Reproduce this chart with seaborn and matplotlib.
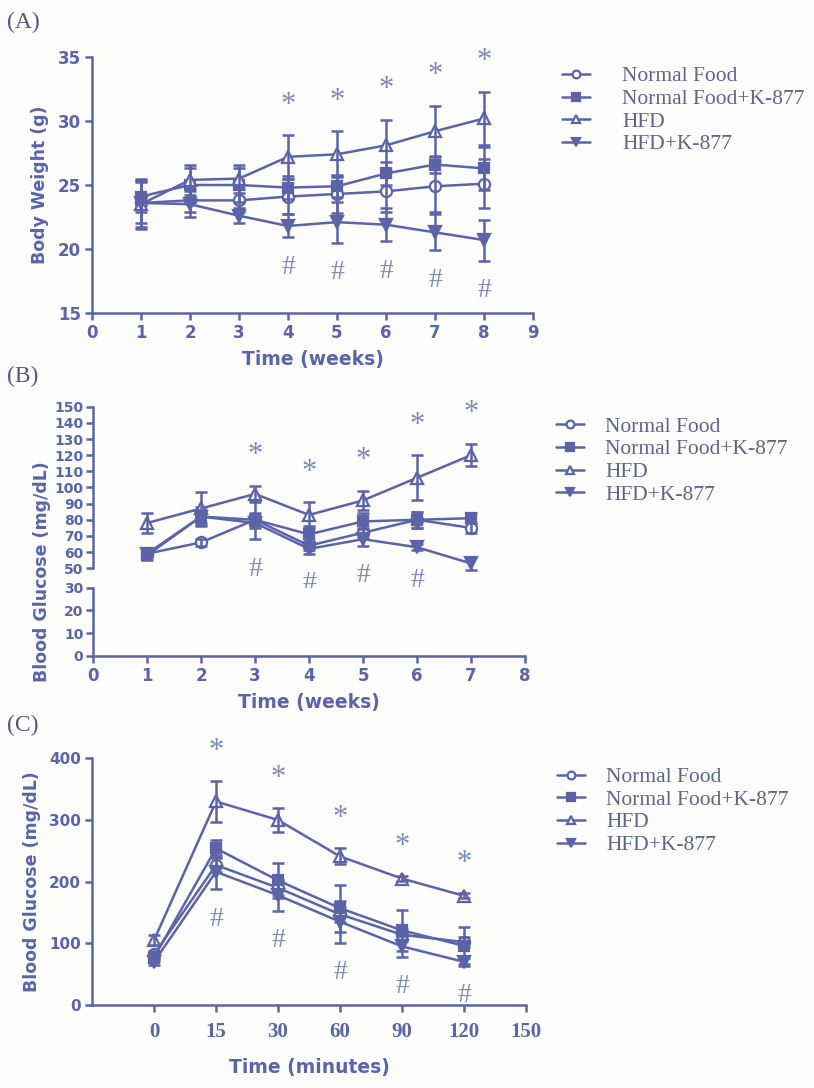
import numpy as np
import pandas as pd
import seaborn as sns
import matplotlib.pyplot as plt

groups = ["Normal Food", "Normal Food+K-877", "HFD", "HFD+K-877"]

# (A) body weight, weeks 1-8
weeks_a = [1, 2, 3, 4, 5, 6, 7, 8]
bw_nf = [23.6, 23.8, 23.8, 24.1, 24.3, 24.5, 24.9, 25.1]
bw_nf_err = [1.6, 0.9, 0.9, 1.4, 1.5, 1.6, 2.0, 1.9]
bw_nfk = [24.1, 25.0, 25.0, 24.8, 24.9, 25.9, 26.6, 26.3]
bw_nfk_err = [1.2, 1.3, 1.3, 0.9, 0.8, 0.9, 0.7, 1.7]
bw_hfd = [23.5, 25.4, 25.5, 27.2, 27.4, 28.1, 29.2, 30.2]
bw_hfd_err = [1.9, 1.2, 1.1, 1.7, 1.8, 2.0, 2.0, 2.1]
bw_hfdk = [23.6, 23.5, 22.6, 21.8, 22.1, 21.9, 21.3, 20.7]
bw_hfdk_err = [1.9, 1.0, 0.6, 0.9, 1.6, 1.3, 1.4, 1.6]
sig_a = [4, 5, 6, 7, 8]

# (B) fasting blood glucose, weeks 1-7
weeks_b = [1, 2, 3, 4, 5, 6, 7]
bg_nf = [59, 66, 80, 64, 72, 80, 75]
bg_nf_err = [2, 2, 4, 3, 3, 5, 3]
bg_nfk = [58, 82, 80, 71, 79, 80, 81]
bg_nfk_err = [3, 6, 12, 5, 5, 5, 3]
bg_hfd = [78, 87, 96, 83, 92, 106, 120]
bg_hfd_err = [6, 10, 5, 8, 6, 14, 7]
bg_hfdk = [59, 82, 78, 62, 68, 63, 53]
bg_hfdk_err = [2, 4, 3, 3, 4, 2, 4]
sig_b = [3, 4, 5, 6, 7]

# (C) glucose tolerance test
minutes = ["0", "15", "30", "60", "90", "120"]
minute_ticks = ["0", "15", "30", "60", "90", "120", "150"]
gtt_nf = [82, 227, 190, 147, 114, 102]
gtt_nf_err = [5, 12, 12, 12, 10, 8]
gtt_nfk = [77, 254, 202, 157, 121, 96]
gtt_nfk_err = [5, 14, 28, 38, 33, 30]
gtt_hfd = [105, 330, 300, 241, 205, 177]
gtt_hfd_err = [8, 33, 19, 13, 4, 4]
gtt_hfdk = [70, 216, 178, 135, 95, 70]
gtt_hfdk_err = [5, 28, 25, 34, 17, 6]
sig_c = ["15", "30", "60", "90", "120"]

blue = "#5b64a8"
sig_col = "#7d8bb3"
txt_col = "#5f6586"
bg = "#fcfcfa"
markers = ["o", "s", "^", "v"]
filled = [False, True, False, True]
msize = [8, 7.5, 8.5, 8.5]

sns.set_theme(style="ticks", rc={
    "axes.edgecolor": blue, "axes.linewidth": 1.8,
    "xtick.color": blue, "ytick.color": blue,
    "xtick.major.width": 1.8, "ytick.major.width": 1.8,
    "xtick.major.size": 5, "ytick.major.size": 5,
    "axes.facecolor": bg, "figure.facecolor": bg,
})
plt.rcParams["font.family"] = ["DejaVu Sans"]
plt.rcParams["font.weight"] = "bold"
plt.rcParams["axes.labelweight"] = "bold"


def draw_groups(ax, x, means, errs):
    handles = []
    for m, f, ms, y, e in zip(markers, filled, msize, means, errs):
        sns.lineplot(x=x, y=y, ax=ax, color=blue, marker=m, markersize=ms,
                     markerfacecolor=blue if f else bg, markeredgecolor=blue,
                     markeredgewidth=1.6, linewidth=1.8, errorbar=None,
                     clip_on=False)
        handles.append(ax.lines[-1])
        ax.errorbar(x, y, yerr=e, fmt="none", ecolor=blue, elinewidth=1.8,
                    capsize=4.5, capthick=1.8, clip_on=False)
    return handles


def mark_sig(ax, x, means, errs, which):
    for xi in which:
        i = list(x).index(xi)
        top = max(m[i] + e[i] for m, e in zip(means, errs))
        low = min(m[i] - e[i] for m, e in zip(means, errs))
        ax.annotate("*", (x[i], top), xytext=(0, 30), textcoords="offset pixels",
                    ha="center", va="center", fontsize=22, color=sig_col,
                    family="Liberation Serif", fontweight="normal",
                    annotation_clip=False)
        ax.annotate("#", (x[i], low), xytext=(0, -30), textcoords="offset pixels",
                    ha="center", va="center", fontsize=20, color=sig_col,
                    family="Liberation Serif", fontweight="normal",
                    annotation_clip=False)


def add_legend(ax, handles, x0, y0, pad):
    ax.legend(handles, groups, loc="upper left", bbox_to_anchor=(x0, y0),
              bbox_transform=fig.transFigure, frameon=False, borderpad=0,
              borderaxespad=0, handlelength=1.3, handletextpad=pad,
              labelspacing=0.12, labelcolor=txt_col, markerscale=0.7,
              prop={"family": "Liberation Serif", "size": 15.5, "weight": "normal"})


def panel_tag(label, x, y):
    fig.text(x, y, label, family="Liberation Serif", fontweight="normal",
             fontsize=17, color="#55587a", ha="left", va="center")


def style_axis(ax):
    sns.despine(ax=ax)
    ax.tick_params(labelsize=12, pad=3)


fig = plt.figure(figsize=(8.14, 10.88), dpi=100)

# ---- (A)
ax_a = fig.add_axes([0.113, 0.7123, 0.5418, 0.2353])
means_a = [bw_nf, bw_nfk, bw_hfd, bw_hfdk]
errs_a = [bw_nf_err, bw_nfk_err, bw_hfd_err, bw_hfdk_err]
h = draw_groups(ax_a, weeks_a, means_a, errs_a)
mark_sig(ax_a, weeks_a, means_a, errs_a, sig_a)
ax_a.set_xlim(0, 9)
ax_a.set_ylim(15, 35)
ax_a.set_xticks(range(0, 10))
ax_a.set_yticks([15, 20, 25, 30, 35])
style_axis(ax_a)
ax_a.set_xlabel("Time (weeks)", fontsize=13.5, color=blue, labelpad=6)
ax_a.set_ylabel("Body Weight (g)", fontsize=12.5, color=blue, labelpad=6)
add_legend(ax_a, h, 0.690, 0.939, 1.5)
panel_tag("(A)", 0.008, 0.979)

# ---- (B) broken y axis
ax_b = fig.add_axes([0.1143, 0.4777, 0.5307, 0.1485])
ax_b2 = fig.add_axes([0.1143, 0.3971, 0.5307, 0.0627])
means_b = [bg_nf, bg_nfk, bg_hfd, bg_hfdk]
errs_b = [bg_nf_err, bg_nfk_err, bg_hfd_err, bg_hfdk_err]
h = draw_groups(ax_b, weeks_b, means_b, errs_b)
mark_sig(ax_b, weeks_b, means_b, errs_b, sig_b)
ax_b.set_xlim(0, 8)
ax_b.set_ylim(50, 150)
ax_b.set_yticks(range(50, 151, 10))
ax_b.tick_params(axis="y", labelsize=10, pad=2)
ax_b.tick_params(axis="x", bottom=False, labelbottom=False)
sns.despine(ax=ax_b, bottom=True)
ax_b2.set_xlim(0, 8)
ax_b2.set_ylim(0, 30)
ax_b2.set_xticks(range(0, 9))
ax_b2.set_yticks([0, 10, 20, 30])
sns.despine(ax=ax_b2)
ax_b2.tick_params(axis="x", labelsize=12, pad=3)
ax_b2.tick_params(axis="y", labelsize=10, pad=2)
ax_b2.set_xlabel("Time (weeks)", fontsize=13.5, color=blue, labelpad=6)
fig.text(0.052, 0.475, "Blood Glucose (mg/dL)", rotation=90, fontsize=12.5,
         color=blue, ha="center", va="center")
add_legend(ax_b, h, 0.683, 0.617, 1.0)
panel_tag("(B)", 0.008, 0.654)

# ---- (C)
ax_c = fig.add_axes([0.113, 0.0763, 0.5332, 0.2267])
pos = list(range(len(minutes)))
means_c = [gtt_nf, gtt_nfk, gtt_hfd, gtt_hfdk]
errs_c = [gtt_nf_err, gtt_nfk_err, gtt_hfd_err, gtt_hfdk_err]
h = draw_groups(ax_c, pos, means_c, errs_c)
mark_sig(ax_c, pos, means_c, errs_c, [minutes.index(t) for t in sig_c])
ax_c.set_xlim(-1, len(minute_ticks) - 1)
ax_c.set_ylim(0, 400)
ax_c.set_yticks([0, 100, 200, 300, 400])
style_axis(ax_c)
ax_c.set_xticks(range(len(minute_ticks)))
ax_c.set_xticklabels(minute_ticks, family="Liberation Serif", fontweight="bold",
                     fontsize=15)
ax_c.tick_params(axis="y", labelsize=11)
ax_c.tick_params(axis="x", pad=7)
ax_c.set_xlabel("Time (minutes)", fontsize=13.5, color=blue, labelpad=12)
ax_c.set_ylabel("Blood Glucose (mg/dL)", fontsize=12.5, color=blue, labelpad=6)
add_legend(ax_c, h, 0.684, 0.295, 1.0)
panel_tag("(C)", 0.008, 0.333)

fig.savefig("out.png", dpi=100, facecolor=bg)
